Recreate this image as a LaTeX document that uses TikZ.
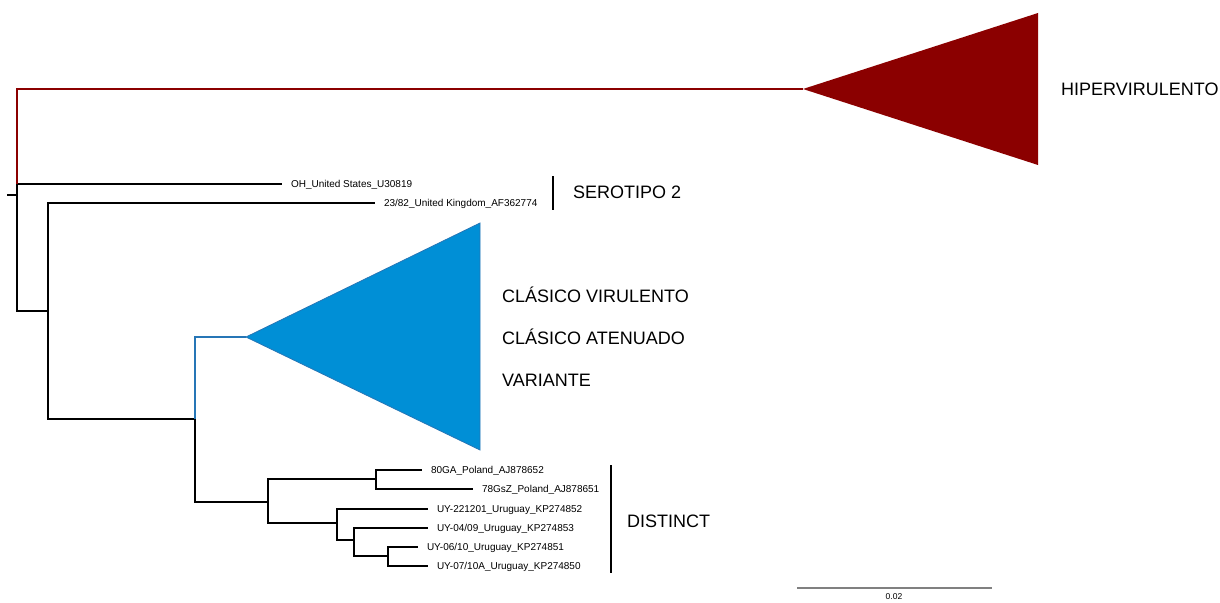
\documentclass[tikz,border=0pt]{standalone}
\usepackage{fontspec}
\setmainfont{Liberation Sans}
\definecolor{hiperred}{RGB}{139,0,0}
\definecolor{clasfill}{RGB}{0,143,214}
\definecolor{clasline}{RGB}{38,118,182}
\begin{document}
\begin{tikzpicture}[x=1pt,y=-1pt,
	branch/.style={line width=1.4pt},
	leaf/.style={anchor=west, inner xsep=9pt, inner ysep=0pt, outer sep=0pt, text height=7.2pt, text depth=0pt, font=\fontsize{10}{12}\selectfont},
	clade/.style={anchor=west, inner sep=0pt, text height=12.9pt, text depth=0pt, font=\fontsize{18}{21}\selectfont},
	cladebar/.style={line width=1.3pt}]
	\useasboundingbox (0,0) rectangle (1220,602);

	\coordinate (stub) at (7,195);
	\coordinate (root) at (17,195);
	\coordinate (nA) at (48,311);
	\coordinate (nB) at (195,419);
	\coordinate (nC) at (268,502);
	\coordinate (nD) at (376,479);
	\coordinate (nE) at (337,523);
	\coordinate (nF) at (354,540);
	\coordinate (nG) at (388,556);
	\coordinate (hiper) at (803,89);
	\coordinate (clas) at (246,337);

	\node[leaf] (oh) at (282,184) {OH\_United States\_U30819};
	\node[leaf] (uk) at (375,203) {23/82\_United Kingdom\_AF362774};
	\node[leaf] (pl80) at (422,470) {80GA\_Poland\_AJ878652};
	\node[leaf] (pl78) at (473,489) {78GsZ\_Poland\_AJ878651};
	\node[leaf] (uy2212) at (428,509) {UY-221201\_Uruguay\_KP274852};
	\node[leaf] (uy0409) at (428,528) {UY-04/09\_Uruguay\_KP274853};
	\node[leaf] (uy0610) at (418,547) {UY-06/10\_Uruguay\_KP274851};
	\node[leaf] (uy0710) at (428,566) {UY-07/10A\_Uruguay\_KP274850};

	\fill[hiperred] (hiper) -- (1038,13) -- (1038,165) -- cycle;
	\filldraw[fill=clasfill, draw=clasline, line width=0.8pt] (clas) -- (480,223) -- (480,450) -- cycle;

	\draw[branch] (stub) -- (root);
	\draw[branch] (root) |- (oh);
	\draw[branch] (root) |- (nA);
	\draw[branch, hiperred] (root |- oh) |- (hiper);
	\draw[branch] (nA) |- (uk);
	\draw[branch] (nA) |- (nB);
	\draw[branch, clasline] (nB) |- (clas);
	\draw[branch] (nB) |- (nC);
	\draw[branch] (nC) |- (nD);
	\draw[branch] (nC) |- (nE);
	\draw[branch] (nD) |- (pl80);
	\draw[branch] (nD) |- (pl78);
	\draw[branch] (nE) |- (uy2212);
	\draw[branch] (nE) |- (nF);
	\draw[branch] (nF) |- (uy0409);
	\draw[branch] (nF) |- (nG);
	\draw[branch] (nG) |- (uy0610);
	\draw[branch] (nG) |- (uy0710);

	\node[clade] (hiperlbl) at (1061,89) {HIPERVIRULENTO};
	\node[clade] (clasvir) at (502,296) {CLÁSICO VIRULENTO};
	\node[clade] (clasate) at (502,338) {CLÁSICO ATENUADO};
	\node[clade] (variante) at (502,380) {VARIANTE};

	\coordinate (serotop) at (553,176);
	\coordinate (serobot) at (553,210);
	\draw[cladebar] (serotop) -- (serobot);
	\node[clade] (sero) at (573,192) {SEROTIPO 2};

	\coordinate (disttop) at (611,465);
	\coordinate (distbot) at (611,573);
	\draw[cladebar] (disttop) -- (distbot);
	\node[clade] (dist) at (627,521) {DISTINCT};

	\coordinate (scaleleft) at (797,588);
	\coordinate (scaleright) at (992,588);
	\draw[line width=1.4pt, gray] (scaleleft) -- (scaleright);
	\node[font=\fontsize{8.5}{10}\selectfont, inner sep=0pt] (scale) at (894,596.5) {0.02};
\end{tikzpicture}
\end{document}
